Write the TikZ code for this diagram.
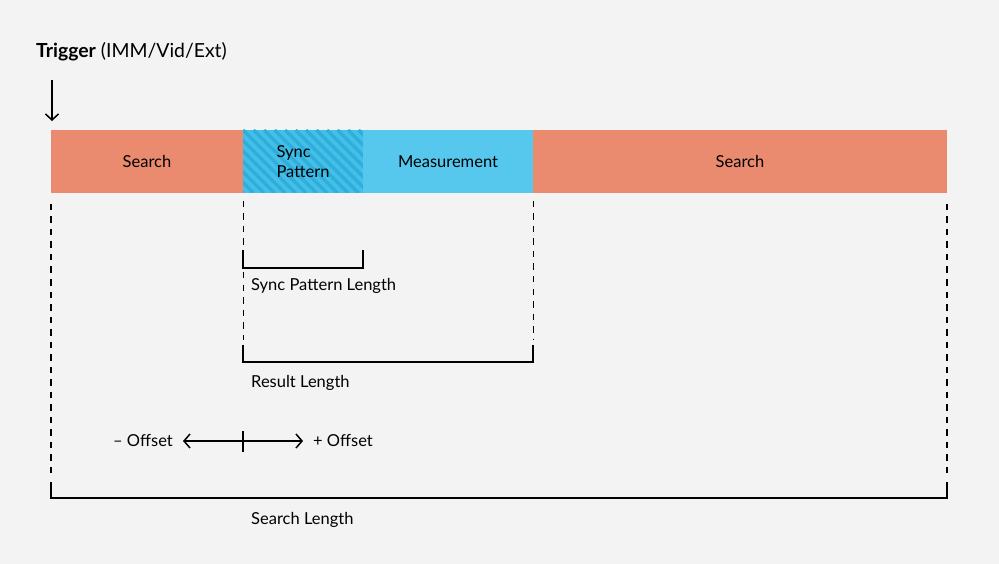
\documentclass[tikz,border=0pt]{standalone}
\usepackage{fontspec}
\setmainfont{Lato}
\usetikzlibrary{arrows.meta}

\definecolor{bgc}{HTML}{F3F3F3}
\definecolor{searchc}{HTML}{EA8B6F}
\definecolor{measc}{HTML}{56C8EE}
\definecolor{syncc}{HTML}{45BEE8}
\definecolor{stripec}{HTML}{2DAFDC}

\begin{document}
\begin{tikzpicture}[x=1pt, y=-1pt,
    seg/.style={minimum height=63pt, inner sep=0pt,
        font=\fontsize{16.5}{20.5}\selectfont},
    guide/.style={line width=1.4pt, dash pattern=on 6.5pt off 6pt},
    thinguide/.style={line width=1pt, dash pattern=on 6.5pt off 6pt},
    brace/.style={line width=1.8pt},
    lbl/.style={inner sep=0pt, font=\fontsize{16.5}{20}\selectfont},
    stripe/.style={stripec, line width=3.5pt}
]
    \fill[bgc] (0,0) rectangle (999,564);
    \useasboundingbox (0,0) rectangle (999,564);

    % trigger
    \node[inner sep=0pt, anchor=west, font=\fontsize{19.4}{22}\selectfont]
        (trig) at (36,52) {\textbf{Trigger} (IMM/Vid/Ext)};
    \coordinate (trigtop) at (52,80);
    \coordinate (trigend) at (52,121);
    \draw[line width=1.5pt, -{Straight Barb[length=6pt, width=13pt]}] (trigtop) -- (trigend);

    % the bar
    \node[seg, fill=searchc, minimum width=192pt] (s1) at (147,161.5) {Search};
    \node[seg, fill=syncc, minimum width=120pt, align=left,
        path picture={
            \foreach \k in {-7,...,12}
                \draw[stripe] ([xshift=\k*10.5pt]path picture bounding box.north west) -- ++(63pt,-63pt);
        }] (sp) at (303,161.5) {Sync\\Pattern};
    \node[seg, fill=measc, minimum width=170pt] (ms) at (448,161.5) {Measurement};
    \node[seg, fill=searchc, minimum width=414pt] (s2) at (740,161.5) {Search};

    % guides
    \coordinate (g1) at (51,204);
    \coordinate (g1e) at (51,476);
    \coordinate (g2) at (947,204);
    \coordinate (g2e) at (947,476);
    \coordinate (g3) at (243,201);
    \coordinate (g3e) at (243,246);
    \coordinate (g3b) at (243,272);
    \coordinate (g3be) at (243,340);
    \coordinate (g4) at (533,201);
    \coordinate (g4e) at (533,340);
    \draw[guide] (g1) -- (g1e);
    \draw[guide] (g2) -- (g2e);
    \draw[thinguide] (g3) -- (g3e);
    \draw[thinguide] (g3b) -- (g3be);
    \draw[thinguide] (g4) -- (g4e);

    % sync pattern length
    \coordinate (spl1) at (243,250);
    \coordinate (spl2) at (363,250);
    \draw[brace] (spl1) |- (363,268) -- (spl2);
    \node[lbl, anchor=west] (spll) at (251,286) {Sync Pattern Length};

    % result length
    \coordinate (rl1) at (243,345);
    \coordinate (rl2) at (533,345);
    \draw[brace] (rl1) |- (533,362) -- (rl2);
    \node[lbl, anchor=west] (rll) at (251,383) {Result Length};

    % offset
    \coordinate (off0) at (243,441);
    \coordinate (offm) at (183,441);
    \coordinate (offp) at (303,441);
    \draw[line width=1.5pt, {Straight Barb[length=6pt, width=14pt]}-{Straight Barb[length=6pt, width=14pt]}] (offm) -- (offp);
    \draw[line width=1.5pt] (243,431) -- (243,452);
    \node[lbl, anchor=east] (offml) at (173,441) {– Offset};
    \node[lbl, anchor=west] (offpl) at (313,441) {+ Offset};

    % search length
    \coordinate (sl1) at (51,482);
    \coordinate (sl2) at (947,482);
    \draw[brace] (sl1) |- (947,498) -- (sl2);
    \node[lbl, anchor=west] (sll) at (251,520) {Search Length};
\end{tikzpicture}
\end{document}
